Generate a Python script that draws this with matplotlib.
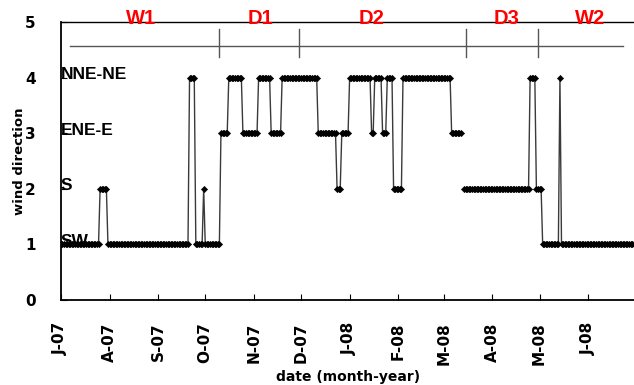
import numpy as np
import pandas as pd
import matplotlib
matplotlib.use("Agg")
import matplotlib.pyplot as plt

# ---- data (daily wind direction class, run-length) ----
start_date = "2007-07-01"
seg_values = [1, 2, 1, 4, 1, 2, 1, 3, 4, 3, 4, 3, 4, 3, 2, 3, 4, 3, 4, 3, 4, 2, 4, 3,
              np.nan, 2, 4, 2, 1, 4, 1]
seg_days = [25, 5, 52, 4, 5, 1, 10, 5, 9, 10, 8, 7, 23, 12, 3, 5, 14, 2, 5, 3, 4, 6, 31, 7,
            1, 42, 4, 4, 11, 1, 47]

level_names = ["SW", "S", "ENE-E", "NNE-NE"]
level_values = [1, 2, 3, 4]

month_ticks = ["2007-07-01", "2007-08-01", "2007-09-01", "2007-10-01", "2007-11-01",
               "2007-12-01", "2008-01-01", "2008-02-01", "2008-03-01", "2008-04-01",
               "2008-05-01", "2008-06-01"]
month_labels = ["J-07", "A-07", "S-07", "O-07", "N-07", "D-07",
                "J-08", "F-08", "M-08", "A-08", "M-08", "J-08"]

period_names = ["W1", "D1", "D2", "D3", "W2"]
period_label_dates = ["2007-08-21", "2007-11-05", "2008-01-15", "2008-04-10", "2008-06-02"]
period_bounds = ["2007-07-07", "2007-10-10", "2007-11-30", "2008-03-15", "2008-04-30", "2008-06-23"]

# ---- build series ----
vals = np.repeat(np.array(seg_values, dtype=float), seg_days)
dates = pd.date_range(start_date, periods=len(vals), freq="D")

fig = plt.figure(figsize=(6.34, 3.85), dpi=100)
ax = fig.add_axes([0.096, 0.221, 0.906, 0.722])

ax.plot(dates, vals, color="#3a3a3a", lw=1.0, marker="D", markersize=3.2,
        markerfacecolor="black", markeredgecolor="black", markeredgewidth=0.4)

ax.set_ylim(0, 5)
ax.set_xlim(pd.Timestamp("2007-07-01"), pd.Timestamp("2008-07-01"))
ax.set_yticks([0, 1, 2, 3, 4, 5])
ax.set_xticks(pd.to_datetime(month_ticks))
ax.set_xticklabels(month_labels, rotation=90, fontsize=11, fontweight="bold")
for t in ax.get_yticklabels():
    t.set_fontsize(11)
    t.set_fontweight("bold")
ax.tick_params(axis="both", direction="in", length=4, width=0.8)
ax.tick_params(axis="y", pad=18)
ax.tick_params(axis="x", pad=16)

for s in ["left", "bottom"]:
    ax.spines[s].set_linewidth(1.3)
ax.spines["top"].set_linewidth(1.0)
ax.spines["right"].set_visible(False)

ax.set_ylabel("wind direction", fontsize=9.5, fontweight="bold")
ax.yaxis.set_label_coords(-0.06, 0.5)
ax.set_xlabel("date (month-year)", fontsize=10, fontweight="bold", labelpad=4)

# level names inside the plot
trans = ax.get_yaxis_transform()
for name, v in zip(level_names, level_values):
    ax.text(0.0, v - 0.03, name, transform=trans, ha="left", va="baseline",
            fontsize=12.5, fontweight="bold", family="Liberation Sans")

# period bar
pb = pd.to_datetime(period_bounds)
ax.plot([pb[0], pb[-1]], [4.57, 4.57], color="#555555", lw=1.0)
for b in pb[1:-1]:
    ax.plot([b, b], [4.37, 4.87], color="#555555", lw=1.0)
for name, d in zip(period_names, pd.to_datetime(period_label_dates)):
    ax.text(d, 5.07, name, ha="center", va="center", color="red",
            fontsize=14.5, fontweight="bold", family="Liberation Sans", clip_on=False)

fig.savefig("out.png", dpi=100)
